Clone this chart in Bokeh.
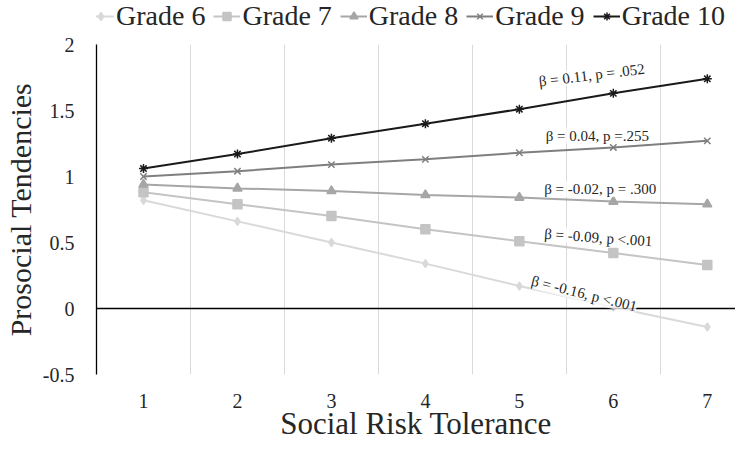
import numpy as np
from bokeh.plotting import figure
from bokeh.layouts import column
from bokeh.models import (Range1d, FixedTicker, Span, Label, Legend, LegendItem)
from bokeh.embed import file_html
from bokeh.resources import INLINE

# ---- data ----
risk = [1, 2, 3, 4, 5, 6, 7]
series_names = ["Grade 6", "Grade 7", "Grade 8", "Grade 9", "Grade 10"]
grade6 = [0.82, 0.66, 0.50, 0.34, 0.17, 0.01, -0.14]
grade7 = [0.88, 0.79, 0.70, 0.60, 0.51, 0.42, 0.33]
grade8 = [0.94, 0.91, 0.89, 0.86, 0.84, 0.81, 0.79]
grade9 = [1.00, 1.04, 1.09, 1.13, 1.18, 1.22, 1.27]
grade10 = [1.06, 1.17, 1.29, 1.40, 1.51, 1.63, 1.74]
y_ticks = [-0.5, 0, 0.5, 1, 1.5, 2]
y_tick_labels = ["-0.5", "0", "0.5", "1", "1.5", "2"]
annot_texts = ["β  = 0.11, p = .052", "β  = 0.04, p =.255", "β  = -0.02, p = .300",
               "β  = -0.09, p <.001", "β = -0.16, p <.001"]

# ---- styling ----
FONT = "Liberation Serif"
TXT = "#262626"
line_colors = ["#D9D9D9", "#C4C4C4", "#A6A6A6", "#7F7F7F", "#1A1A1A"]
markers = ["diamond", "square", "triangle", "x", "asterisk"]
msizes = [8, 9, 9, 9, 9]
lwidths = [2, 2, 2, 2, 2]
all_series = [grade6, grade7, grade8, grade9, grade10]

# ---------------- main chart ----------------
p = figure(width=735, height=411, output_backend="svg", toolbar_location=None,
           x_range=Range1d(0.5, 7.3), y_range=Range1d(-0.5, 2.0),
           min_border_left=96, min_border_right=0, min_border_top=12,
           min_border_bottom=69)
p.outline_line_color = None
p.background_fill_color = "white"

p.xaxis.ticker = FixedTicker(ticks=risk)
p.xaxis.axis_line_color = None
p.xaxis.major_tick_line_color = None
p.xaxis.minor_tick_line_color = None
p.xaxis.major_tick_out = 0
p.xaxis.minor_tick_out = 0
p.xaxis.major_label_text_font = FONT
p.xaxis.major_label_text_font_size = "20px"
p.xaxis.major_label_text_color = TXT
p.xaxis.major_label_standoff = 19
p.xaxis.axis_label = "Social Risk Tolerance"
p.xaxis.axis_label_text_font = FONT
p.xaxis.axis_label_text_font_size = "31px"
p.xaxis.axis_label_text_font_style = "normal"
p.xaxis.axis_label_text_color = TXT
p.xaxis.axis_label_standoff = -5

p.yaxis.ticker = FixedTicker(ticks=y_ticks)
p.yaxis.major_label_overrides = {t: s for t, s in zip(y_ticks, y_tick_labels)}
p.yaxis.axis_line_color = "black"
p.yaxis.axis_line_width = 1.3
p.yaxis.major_tick_line_color = None
p.yaxis.minor_tick_line_color = None
p.yaxis.major_tick_out = 0
p.yaxis.minor_tick_out = 0
p.yaxis.major_label_text_font = FONT
p.yaxis.major_label_text_font_size = "20px"
p.yaxis.major_label_text_color = TXT
p.yaxis.major_label_standoff = 22
p.yaxis.axis_label = "Prosocial Tendencies"
p.yaxis.axis_label_text_font = FONT
p.yaxis.axis_label_text_font_size = "30px"
p.yaxis.axis_label_text_font_style = "normal"
p.yaxis.axis_label_text_color = TXT
p.yaxis.axis_label_standoff = 3

p.ygrid.grid_line_color = None
p.xgrid.ticker = FixedTicker(ticks=[r + 0.5 for r in risk])
p.xgrid.grid_line_color = "#D9D9D9"
p.xgrid.grid_line_width = 1

p.add_layout(Span(location=0, dimension="width", line_color="black", line_width=1.3))

for name, vals, col, mk, ms, lw in zip(series_names, all_series, line_colors, markers, msizes, lwidths):
    p.line(risk, vals, line_color=col, line_width=lw)
    p.scatter(risk, vals, marker=mk, size=ms, fill_color=col, line_color=col, line_width=1.5)

annot_x = [5.79, 5.85, 5.88, 5.86, 5.69]
annot_y = [1.77, 1.31, 0.906, 0.536, 0.113]
annot_angle_deg = [7, 0, 0, -4, -14]
for t, ax, ay, ang in zip(annot_texts, annot_x, annot_y, annot_angle_deg):
    p.add_layout(Label(x=ax, y=ay, text=t, angle=np.deg2rad(ang),
                       text_align="center", text_baseline="middle",
                       text_font=FONT, text_font_size="15px", text_color=TXT,
                       background_fill_color="white", background_fill_alpha=0.75))

# ---------------- legend strip ----------------
lf = figure(width=735, height=32, output_backend="svg", toolbar_location=None,
            x_range=Range1d(100, 101), y_range=Range1d(100, 101),
            x_axis_location=None, y_axis_location=None,
            min_border_left=0, min_border_right=0, min_border_top=0, min_border_bottom=0)
lf.outline_line_color = None
lf.grid.visible = False
items = []
for name, vals, col, mk, ms, lw in zip(series_names, all_series, line_colors, markers, msizes, lwidths):
    lr = lf.line(risk, vals, line_color=col, line_width=lw)
    sr = lf.scatter(risk, vals, marker=mk, size=ms, fill_color=col, line_color=col, line_width=1.5)
    items.append(LegendItem(label=name, renderers=[lr, sr]))
legend = Legend(items=items, orientation="horizontal", location=(-9, 0),
                label_text_font=FONT, label_text_font_size="28px", label_text_color=TXT,
                glyph_width=27, glyph_height=20, label_height=28, label_standoff=2, spacing=8,
                padding=0, margin=0, border_line_color=None, background_fill_alpha=0)
lf.add_layout(legend, "center")

layout = column(lf, p, spacing=0)
open("out.html", "w").write(file_html(layout, INLINE))
